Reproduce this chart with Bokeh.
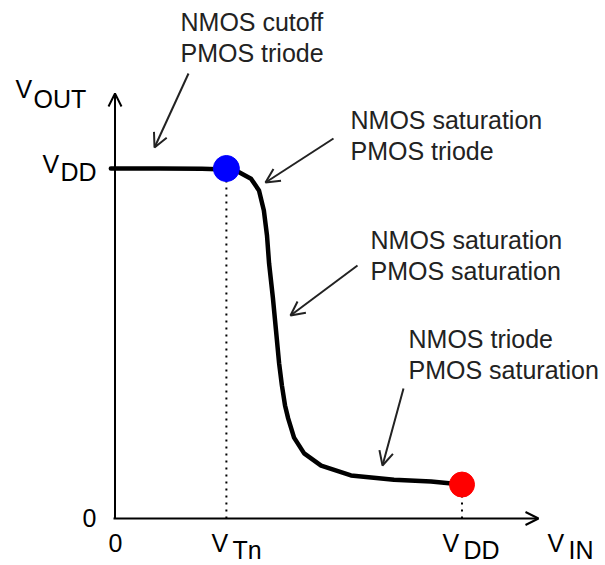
from bokeh.plotting import figure
from bokeh.models import Range1d, Arrow, OpenHead
from bokeh.core.properties import value
from bokeh.embed import file_html
from bokeh.resources import INLINE

# ---- data (normalised to VDD = 1) ----
VDD = 1.0
VTN = 0.321
VOL = 0.097
vin = [-0.012, 0.0, 0.13, 0.25, 0.321, 0.355, 0.392, 0.415, 0.429, 0.438, 0.444,
       0.455, 0.464, 0.473, 0.481, 0.490, 0.499, 0.516, 0.545, 0.594, 0.680,
       0.804, 0.911, 1.0]
vout = [1.0, 1.0, 1.0, 0.999, 0.997, 0.991, 0.971, 0.937, 0.880, 0.809, 0.729,
        0.631, 0.537, 0.443, 0.380, 0.323, 0.286, 0.231, 0.186, 0.151, 0.123,
        0.111, 0.106, 0.097]
regions = [["NMOS cutoff", "PMOS triode"],
           ["NMOS saturation", "PMOS triode"],
           ["NMOS saturation", "PMOS saturation"],
           ["NMOS triode", "PMOS saturation"]]

# pixel helpers for layout (origin of axes at page px (114.5, 518))
SX, SY = 347.0, 350.0
OX, OY = 114.5, 518.0
TEXT_DY = 10  # compensation for the svg text baseline offset
def dx(px):
    return (px - OX) / SX
def dy(py):
    return (OY - py) / SY
def ty_(py):
    return dy(py - TEXT_DY)

W, H = 605, 565
p = figure(frame_width=W, frame_height=H, output_backend="svg", toolbar_location=None,
           title=None, x_axis_type=None, y_axis_type=None,
           x_range=Range1d(dx(0), dx(W)), y_range=Range1d(dy(H), dy(0)),
           min_border=0)
p.grid.visible = False
p.outline_line_color = None
p.background_fill_color = "white"
p.border_fill_color = "white"

# axes with arrows
p.add_layout(Arrow(x_start=0, y_start=0, x_end=0, y_end=dy(93),
                   line_width=2, line_color="black",
                   end=OpenHead(size=13, line_width=2, line_color="black")))
p.add_layout(Arrow(x_start=dx(113), y_start=0, x_end=dx(538), y_end=0,
                   line_width=2, line_color="black",
                   end=OpenHead(size=13, line_width=2, line_color="black")))

# dotted guide lines
p.segment(x0=[VTN, VDD], y0=[0, 0], x1=[VTN, VDD], y1=[VDD, VOL],
          line_color="black", line_width=2, line_dash="2 5")

# transfer curve
p.line(vin, vout, line_color="black", line_width=4.5, line_join="round", line_cap="round")

# points
p.scatter([VTN], [VDD], size=26, fill_color="#0000ff", line_color="#0000ff")
p.scatter([VDD], [VOL], size=25, fill_color="#ff0000", line_color="#ff0000")

# annotation arrows (tail -> head, page px)
arrows = [((188, 73), (154, 147)), ((333, 138), (265, 182)),
          ((357, 265), (290, 315)), ((403, 388), (382, 465))]
for (t, h) in arrows:
    p.add_layout(Arrow(x_start=dx(t[0]), y_start=dy(t[1]), x_end=dx(h[0]), y_end=dy(h[1]),
                       line_width=2, line_color="#222222",
                       end=OpenHead(size=14, line_width=2, line_color="#222222")))

font = value("Liberation Sans")
# region labels
lab_pos = [(180, 31), (350, 129), (370, 249), (408, 348)]
tx, ty, tt = [], [], []
for (lx, ly), lines in zip(lab_pos, regions):
    for i, s in enumerate(lines):
        tx.append(dx(lx)); ty.append(ty_(ly + 31 * i)); tt.append(s)
p.text(x=tx, y=ty, text=tt, text_font=font, text_font_size="25px",
       text_color="#222222", text_align="left", text_baseline="alphabetic")

# axis labels with subscripts
main = [("V", 15, 98), ("V", 42, 173), ("0", 82, 527), ("0", 108, 552),
        ("V", 211, 552), ("V", 442, 552), ("V", 547, 552)]
subs = [("OUT", 33, 108), ("DD", 60, 181), ("Tn", 232, 559), ("DD", 463, 559),
        ("IN", 568, 559)]
for group in (main, subs):
    p.text(x=[dx(a) for _, a, _ in group], y=[ty_(b) for _, _, b in group],
           text=[s for s, _, _ in group], text_font=font, text_font_size="25px",
           text_color="black", text_align="left", text_baseline="alphabetic")

open("out.html", "w").write(file_html(p, INLINE))
